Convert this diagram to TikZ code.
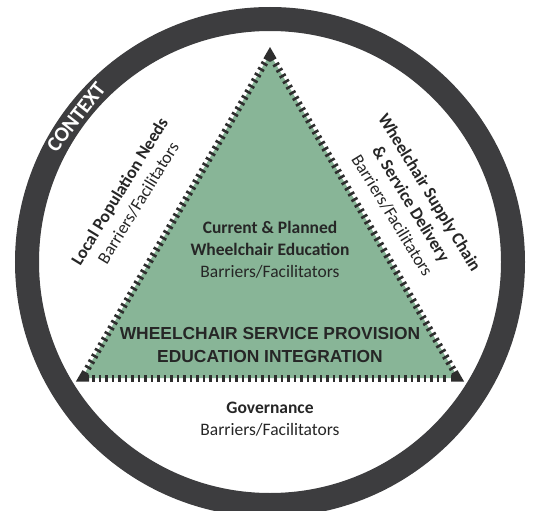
\documentclass[tikz,border=0pt]{standalone}
\usepackage{fontspec}
\setmainfont{Carlito}
\newfontfamily\grasfont{Liberation Sans}
\usetikzlibrary{calc}
\definecolor{anneau}{HTML}{3D3D3F}
\definecolor{vert}{HTML}{88B597}
\definecolor{trait}{HTML}{2E2E2E}
\definecolor{texte}{HTML}{262626}
\begin{document}
\begin{tikzpicture}[x=1pt,y=-1pt,
  cercle/.style={draw=anneau, line width=24pt},
  bord/.style={draw=trait, line width=7pt, dash pattern=on 2.6pt off 3.9pt},
  coin/.style={draw=trait, line width=7pt, line join=miter},
  bloc/.style={align=center, text=texte, inner sep=0pt, font=\fontsize{17.5}{22}\selectfont},
  gros/.style={align=center, text=texte, inner sep=0pt, font=\grasfont\bfseries\fontsize{17.4}{23}\selectfont}]
\useasboundingbox (0,0) rectangle (536,511);
% le cercle du contexte
\coordinate (O) at (270,262);
\draw[cercle] (O) circle (243pt);
\node[rotate=52, text=white, inner sep=0pt, font=\bfseries\fontsize{21}{21}\selectfont] (ctx) at (76,117) {CONTEXT};
% le triangle
\coordinate (A) at (270,54);
\coordinate (B) at (82,378);
\coordinate (C) at (458,378);
\fill[vert] (A) -- (B) -- (C) -- cycle;
\draw[bord] ($(A)!10pt!(B)$) -- ($(B)!10pt!(A)$);
\draw[bord] ($(B)!10pt!(C)$) -- ($(C)!10pt!(B)$);
\draw[bord] ($(C)!10pt!(A)$) -- ($(A)!10pt!(C)$);
% les coins
\draw[coin] ($(A)!7pt!(B)$) -- (A) -- ($(A)!7pt!(C)$);
\draw[coin] ($(B)!7pt!(A)$) -- (B) -- ($(B)!7pt!(C)$);
\draw[coin] ($(C)!7pt!(A)$) -- (C) -- ($(C)!7pt!(B)$);
% les textes
\node[bloc] (educ) at (270,250) {\bfseries Current \& Planned\\ \bfseries Wheelchair Education\\ Barriers/Facilitators};
\node[gros] (integ) at (270,345) {WHEELCHAIR SERVICE PROVISION\\ EDUCATION INTEGRATION};
\node[bloc] (gouv) at (270,419) {\bfseries Governance\\ Barriers/Facilitators};
\node[bloc, rotate=58.5] (local) at (129,197) {\bfseries Local Population Needs\\ Barriers/Facilitators};
\node[bloc, rotate=-58.5] (suppl) at (411,204) {\bfseries Wheelchair Supply Chain\\ \bfseries \& Service Delivery\\ Barriers/Facilitators};
\end{tikzpicture}
\end{document}
